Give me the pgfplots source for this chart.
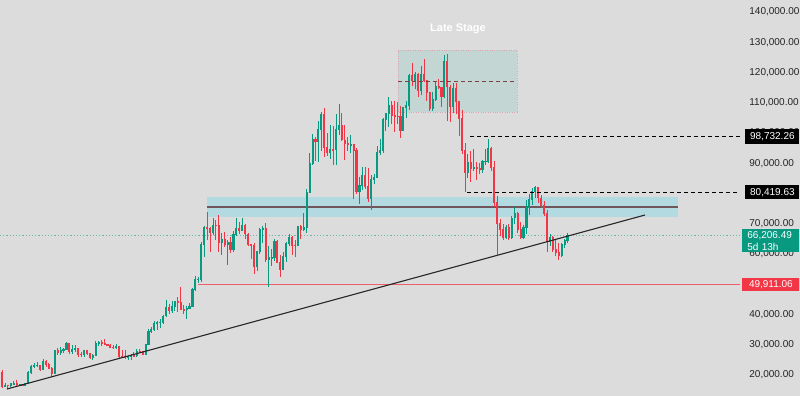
\documentclass[border=0pt]{standalone}
\usepackage{pgfplots}
\pgfplotsset{compat=1.18}
\usepackage{pgfplotstable}
\usepackage{fontspec}
\setmainfont{Liberation Sans}
\definecolor{bgc}{RGB}{220,220,220}
\definecolor{up}{RGB}{8,153,129}
\definecolor{dn}{RGB}{242,54,69}
\definecolor{zone}{RGB}{178,218,224}
\definecolor{zoneline}{RGB}{112,86,90}
\definecolor{boxfill}{RGB}{195,214,211}
\definecolor{boxedge}{RGB}{222,165,178}
\definecolor{boxline}{RGB}{125,65,65}
\definecolor{tickc}{RGB}{35,35,35}
\definecolor{redline}{RGB}{240,95,105}

\pgfplotstableread{
i o h l c
0 20.9 21.5 15.6 16.3
1 16.3 17.2 16.0 16.6
2 16.6 16.8 15.5 16.5
3 16.5 17.4 16.0 17.1
4 17.1 18.0 16.9 17.2
5 17.2 18.4 16.5 16.8
6 16.8 17.1 16.4 16.85
7 16.85 16.9 16.3 16.6
8 16.6 17.2 16.6 17.1
9 17.1 21.3 17.1 20.9
10 20.9 23.4 20.4 22.7
11 22.7 23.9 22.3 23.1
12 23.1 24.3 22.6 23.3
13 23.3 23.4 21.4 21.8
14 21.8 25.2 21.5 24.6
15 24.6 25.1 22.8 23.6
16 23.6 23.9 21.9 22.2
17 22.2 22.6 19.5 20.6
18 20.6 28.4 20.5 28.0
19 28.0 28.9 26.6 27.5
20 27.5 29.2 26.5 28.2
21 28.2 28.8 27.2 28.3
22 28.3 31.0 28.2 30.3
23 30.3 30.5 27.1 27.6
24 27.6 30.0 26.9 28.4
25 28.4 29.8 27.7 28.8
26 28.8 29.0 25.8 26.9
27 26.9 27.6 26.1 26.7
28 26.7 28.4 26.1 28.1
29 28.1 28.4 26.5 27.1
30 27.1 27.3 25.4 25.9
31 25.9 26.8 24.8 26.3
32 26.3 31.4 26.2 30.5
33 30.5 31.4 29.5 30.6
34 30.6 31.5 29.7 30.3
35 30.3 31.8 29.9 30.2
36 30.2 30.4 29.5 29.9
37 29.9 30.1 28.8 29.2
38 29.2 29.9 28.6 29.0
39 29.0 30.2 28.7 29.3
40 29.3 29.7 25.2 26.1
41 26.1 28.2 25.8 26.0
42 26.0 28.1 25.3 25.8
43 25.8 26.1 24.9 26.2
44 26.2 27.0 25.0 26.5
45 26.5 27.5 26.0 26.3
46 26.3 28.6 26.0 27.9
47 27.9 28.6 27.2 27.8
48 27.8 28.0 26.5 26.9
49 26.9 30.4 26.8 30.0
50 30.0 35.2 29.9 34.5
51 34.5 35.9 33.9 35.0
52 35.0 38.0 34.5 37.1
53 37.1 37.9 34.8 37.4
54 37.4 38.4 35.6 37.5
55 37.5 39.7 36.7 39.5
56 39.5 44.7 39.3 42.3
57 42.3 43.4 40.2 41.4
58 41.4 44.3 40.5 42.6
59 42.6 43.8 41.3 44.2
60 44.2 45.9 40.8 43.9
61 43.9 49.0 41.5 41.7
62 41.7 43.2 40.3 41.6
63 41.6 42.8 38.5 42.0
64 42.0 43.9 41.9 42.6
65 42.6 48.6 42.5 48.3
66 48.3 52.8 47.7 51.6
67 51.6 52.4 50.5 51.7
68 51.7 64.0 50.9 63.1
69 63.1 69.2 59.0 68.9
70 68.9 73.8 64.5 68.4
71 68.4 68.9 60.8 67.2
72 67.2 71.8 66.4 69.6
73 69.6 71.3 64.5 69.4
74 69.4 72.8 60.6 63.9
75 63.9 66.9 59.6 64.9
76 64.9 67.2 62.4 63.1
77 63.1 64.7 56.5 63.9
78 63.9 65.5 60.2 61.5
79 61.5 67.7 60.7 66.3
80 66.3 71.9 66.0 68.5
81 68.5 70.6 66.6 67.8
82 67.8 71.9 67.6 69.6
83 69.6 70.0 65.0 66.6
84 66.6 66.9 62.5 63.2
85 63.2 63.4 58.4 62.7
86 62.7 63.8 53.5 55.9
87 55.9 61.0 54.3 60.8
88 60.8 68.5 59.9 68.2
89 68.2 69.4 63.5 68.3
90 68.3 70.1 57.2 58.1
91 58.1 62.7 49.0 58.7
92 58.7 61.8 56.1 58.9
93 58.9 65.0 57.8 64.2
94 64.2 64.5 57.2 57.3
95 57.3 59.8 52.5 54.9
96 54.9 60.7 54.6 59.1
97 59.1 64.1 57.5 63.6
98 63.6 66.5 62.7 65.6
99 65.6 65.8 59.8 62.9
100 62.9 64.5 58.9 62.85
101 62.85 69.4 62.5 69.0
102 69.0 69.5 65.1 68.0
103 68.0 73.6 67.5 68.7
104 68.7 81.5 66.8 80.4
105 80.4 93.5 80.2 89.8
106 89.8 99.6 89.4 98.0
107 98.0 98.7 90.8 97.3
108 97.3 104.0 90.5 101.1
109 101.1 107.0 94.2 106.1
110 106.1 108.3 92.2 95.2
111 95.2 99.9 92.5 93.7
112 93.7 102.7 91.5 94.5
113 94.5 102.3 89.3 94.4
114 94.4 106.4 89.3 101.3
115 101.3 109.6 99.5 102.6
116 102.6 106.5 97.5 97.7
117 97.7 102.5 91.2 96.4
118 96.4 98.8 94.1 96.1
119 96.1 99.5 93.3 96.3
120 96.3 96.5 78.3 94.3
121 94.3 95.0 80.0 80.7
122 80.7 85.3 76.6 82.6
123 82.6 88.8 81.1 86.1
124 86.1 88.8 81.6 82.4
125 82.4 88.5 77.2 78.4
126 78.4 86.1 74.5 84.5
127 84.5 86.5 83.1 85.2
128 85.2 95.7 85.1 93.7
129 93.7 97.9 92.8 94.3
130 94.3 104.8 93.4 104.6
131 104.6 106.7 100.7 106.5
132 106.5 111.9 102.1 109.0
133 109.0 110.7 103.1 105.8
134 105.8 110.6 100.4 105.6
135 105.6 110.4 103.1 105.5
136 105.5 108.9 98.2 100.9
137 100.9 108.5 100.8 108.4
138 108.4 110.6 105.1 109.2
139 109.2 119.5 107.5 119.1
140 119.1 123.2 115.7 117.3
141 117.3 120.2 114.7 119.4
142 119.4 119.8 112.0 114.2
143 114.2 122.3 112.7 119.3
144 119.3 124.5 116.8 117.4
145 117.4 117.6 110.7 113.5
146 113.5 113.6 107.3 108.2
147 108.2 113.4 107.3 111.1
148 111.1 116.8 110.6 115.3
149 115.3 117.9 114.4 115.2
150 115.2 115.3 108.6 112.2
151 112.2 125.7 111.5 123.5
152 123.5 126.2 104.0 115.2
153 115.2 116.0 103.5 108.7
154 108.7 116.4 106.7 114.6
155 114.6 116.4 106.3 110.5
156 110.5 110.6 98.9 104.7
157 104.7 107.5 92.9 94.2
158 94.2 96.6 80.6 86.9
159 86.9 93.0 85.2 90.4
160 90.4 94.1 83.8 88.2
161 88.2 94.6 87.6 88.5
162 88.5 90.4 84.4 88.4
163 88.4 90.0 86.6 87.8
164 87.8 91.0 86.8 90.6
165 90.6 94.8 89.3 90.7
166 90.7 97.9 90.0 95.0
167 95.0 95.5 87.3 88.6
168 88.6 90.6 75.5 77.0
169 77.0 79.3 59.7 70.0
170 70.0 71.5 65.8 68.0
171 68.0 70.0 64.5 65.5
172 65.5 69.5 64.8 68.8
173 68.8 69.8 64.6 65.4
174 65.4 72.5 64.8 71.9
175 71.9 75.5 70.0 73.5
176 73.5 74.0 67.0 68.0
177 68.0 70.5 64.8 65.5
178 65.5 69.5 65.0 68.8
179 68.8 77.9 66.5 75.2
180 75.2 80.0 73.0 78.0
181 78.0 81.8 76.3 80.8
182 80.8 82.5 78.5 82.0
183 82.0 82.3 77.0 78.5
184 78.5 79.5 75.2 76.0
185 76.0 77.5 72.5 73.5
186 73.5 74.5 60.7 64.0
187 64.0 66.5 62.5 65.5
188 65.5 66.0 60.5 61.5
189 61.5 64.5 59.2 60.5
190 60.5 63.5 58.0 59.5
191 59.5 63.5 59.0 63.0
192 63.0 65.0 62.0 64.5
193 64.5 66.8 63.5 66.2
}\candles

\begin{document}
\begin{tikzpicture}
\fill[bgc] (0,0) rectangle (400pt,198pt);
\begin{axis}[
  at={(0,0)}, anchor=south west,
  scale only axis, width=370pt, height=198pt,
  xmin=0, xmax=740, ymin=13.06, ymax=143.97,
  axis line style={draw=none}, tick style={draw=none},
  major tick length=0pt,
  xtick=\empty,
  ytick={20,30,40,60,70,90,100,110,120,130,140},
  yticklabels={{20,000.00},{30,000.00},{40,000.00},{60,000.00},{70,000.00},{90,000.00},{100,000.00},{110,000.00},{120,000.00},{130,000.00},{140,000.00}},
  yticklabel pos=right,
  yticklabel style={font=\fontsize{5}{6}\selectfont, text=tickc, anchor=west, inner sep=0pt, xshift=4.5pt},
]
% support/resistance zone
\fill[zone] (axis cs:207,72.23) rectangle (axis cs:678,78.84);
\draw[zoneline, line width=0.8pt] (axis cs:207,75.54) -- (axis cs:678,75.54);
% late stage box
\fill[boxfill] (axis cs:398,106.94) rectangle (axis cs:517,127.44);
\draw[boxedge, dash pattern=on 0.5pt off 0.7pt, line width=0.4pt] (axis cs:398,106.94) rectangle (axis cs:517,127.44);
% current price dotted line
\draw[up!55!bgc, dash pattern=on 0.6pt off 1pt, line width=0.5pt] (axis cs:0,66.206) -- (axis cs:740,66.206);
% 49,911 line
\draw[redline, line width=0.6pt] (axis cs:198,49.911) -- (axis cs:740,49.911);
% wicks
\addplot[draw=none, no markers, restrict expr to domain={\thisrow{c}-\thisrow{o}}{0:1000},
  error bars/.cd, y dir=both, y explicit, error mark=none, error bar style={draw=up, line width=0.4pt}]
  table[x expr=2+2.93*\thisrow{i}, y expr=(\thisrow{h}+\thisrow{l})/2, y error expr=(\thisrow{h}-\thisrow{l})/2] {\candles};
\addplot[draw=none, no markers, restrict expr to domain={\thisrow{o}-\thisrow{c}}{0.00001:1000},
  error bars/.cd, y dir=both, y explicit, error mark=none, error bar style={draw=dn, line width=0.4pt}]
  table[x expr=2+2.93*\thisrow{i}, y expr=(\thisrow{h}+\thisrow{l})/2, y error expr=(\thisrow{h}-\thisrow{l})/2] {\candles};
% bodies
\addplot[draw=none, no markers, restrict expr to domain={\thisrow{c}-\thisrow{o}}{0:1000},
  error bars/.cd, y dir=both, y explicit, error mark=none, error bar style={draw=up, line width=1.05pt}]
  table[x expr=2+2.93*\thisrow{i}, y expr=(\thisrow{o}+\thisrow{c})/2, y error expr=abs(\thisrow{c}-\thisrow{o})/2+0.15] {\candles};
\addplot[draw=none, no markers, restrict expr to domain={\thisrow{o}-\thisrow{c}}{0.00001:1000},
  error bars/.cd, y dir=both, y explicit, error mark=none, error bar style={draw=dn, line width=1.05pt}]
  table[x expr=2+2.93*\thisrow{i}, y expr=(\thisrow{o}+\thisrow{c})/2, y error expr=abs(\thisrow{c}-\thisrow{o})/2+0.15] {\candles};
% late stage dashed mid line
\draw[boxline, dash pattern=on 2pt off 1.5pt, line width=0.5pt] (axis cs:398,117.19) -- (axis cs:517,117.19);
% dashed levels
\draw[black, dash pattern=on 2pt off 1.5pt, line width=0.5pt] (axis cs:470,98.73226) -- (axis cs:740,98.73226);
\draw[black, dash pattern=on 2pt off 1.5pt, line width=0.5pt] (axis cs:467,80.41963) -- (axis cs:740,80.41963);
% trend line
\draw[black!85, line width=0.55pt] (axis cs:7,15.37) -- (axis cs:645,72.89);
\node[text=white, font=\bfseries\fontsize{5.5}{6.5}\selectfont] at (axis cs:458,134.4) {Late Stage};
\coordinate (L98) at (axis cs:740,98.73226);
\coordinate (L80) at (axis cs:740,80.41963);
\coordinate (L66) at (axis cs:740,66.206);
\coordinate (L50) at (axis cs:740,49.911);
\end{axis}
\node[anchor=west, fill=black, text=white, font=\fontsize{5}{6}\selectfont, minimum width=27pt, minimum height=7.5pt, inner sep=0.8pt] at ([xshift=2.5pt]L98) {98,732.26};
\node[anchor=west, fill=black, text=white, font=\fontsize{5}{6}\selectfont, minimum width=27pt, minimum height=7pt, inner sep=0.8pt] at ([xshift=2.5pt]L80) {80,419.63};
\node[anchor=north west, fill=up, text=white, font=\fontsize{5}{6}\selectfont, minimum width=28.5pt, align=left, inner xsep=2.5pt, inner ysep=0.9pt, text width=23.5pt] at ([xshift=1pt,yshift=3.2pt]L66) {66,206.49\\5d 13h};
\node[anchor=west, fill=dn, text=white, font=\fontsize{5}{6}\selectfont, minimum width=28.5pt, minimum height=6.5pt, inner sep=0.8pt] at ([xshift=1pt]L50) {49,911.06};
\pgfresetboundingbox
\useasboundingbox (0,0) rectangle (400pt,198pt);
\end{tikzpicture}
\end{document}
